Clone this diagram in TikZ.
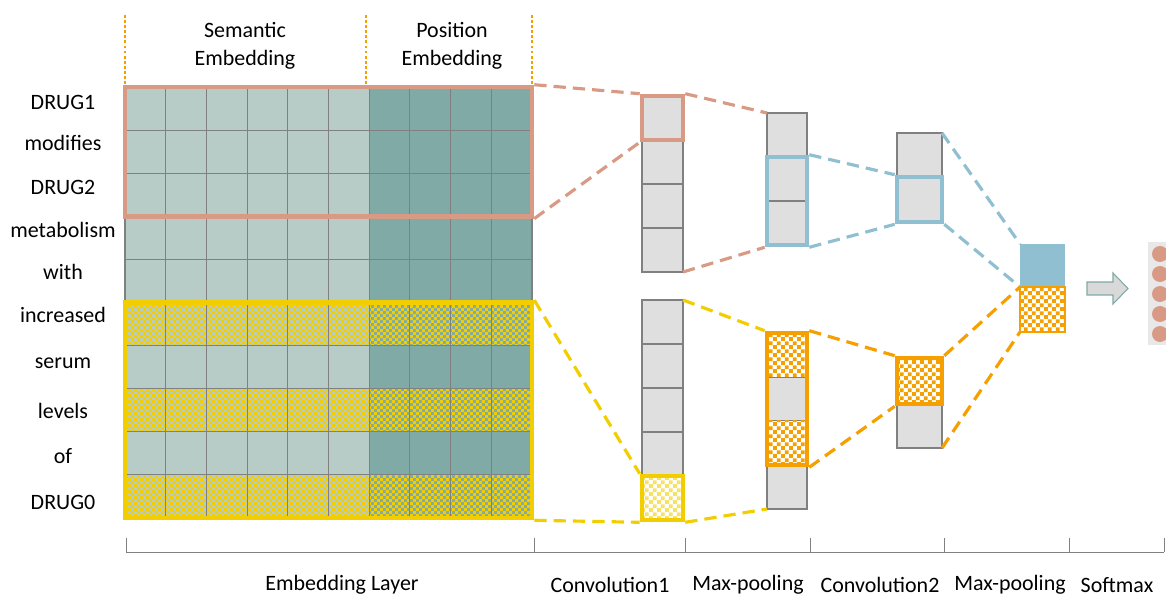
\documentclass[tikz,border=0pt]{standalone}
\usepackage{fontspec}
\setmainfont{Carlito}
\usepackage{tikz}
\usetikzlibrary{patterns, fit, arrows.meta}
\usepackage{xcolor}
\definecolor{semgreen}{RGB}{183, 204, 199}
\definecolor{posteal}{RGB}{127, 170, 166}
\definecolor{gridgray}{RGB}{128, 128, 128}
\definecolor{cellgray}{RGB}{223, 223, 223}
\definecolor{salmon}{RGB}{217, 154, 133}
\definecolor{drugyellow}{RGB}{242, 206, 0}
\definecolor{poolorange}{RGB}{245, 160, 0}
\definecolor{poolblue}{RGB}{143, 191, 208}
\definecolor{arrowgray}{RGB}{217, 217, 217}
\definecolor{softgray}{RGB}{232, 232, 232}
% small checkerboards
\pgfdeclarepatternformonly{finecheck}{\pgfqpoint{0pt}{0pt}}{\pgfqpoint{3.4pt}{3.4pt}}{\pgfqpoint{3.4pt}{3.4pt}}{
  \pgfpathrectangle{\pgfpointorigin}{\pgfqpoint{1.7pt}{1.7pt}}
  \pgfpathrectangle{\pgfqpoint{1.7pt}{1.7pt}}{\pgfqpoint{1.7pt}{1.7pt}}
  \pgfusepath{fill}}
\pgfdeclarepatternformonly{midcheck}{\pgfqpoint{0pt}{0pt}}{\pgfqpoint{4.4pt}{4.4pt}}{\pgfqpoint{4.4pt}{4.4pt}}{
  \pgfpathrectangle{\pgfpointorigin}{\pgfqpoint{2.2pt}{2.2pt}}
  \pgfpathrectangle{\pgfqpoint{2.2pt}{2.2pt}}{\pgfqpoint{2.2pt}{2.2pt}}
  \pgfusepath{fill}}
\tikzstyle{word} = [font=\fontsize{12.5}{16}\selectfont, inner sep=0pt]
\tikzstyle{gridline} = [draw=gridgray, line width=0.6pt]
\tikzstyle{cell} = [draw=gridgray, fill=cellgray, line width=0.9pt]
\tikzstyle{column} = [inner sep=0pt, outer sep=0pt]
\tikzstyle{hlbox} = [draw, inner sep=0pt, line width=2.6pt]
\tikzstyle{checker} = [pattern=midcheck]
\tikzstyle{link} = [dash pattern=on 7pt off 4pt, line width=1.8pt]
\tikzstyle{divider} = [poolorange, dash pattern=on 1.6pt off 1.3pt, line width=1.6pt]
\tikzstyle{axis} = [gridgray, line width=0.5pt]

\begin{document}
\begin{tikzpicture}[x=0.02cm, y=-0.02cm]
\useasboundingbox (0,0) rectangle (1166,597);

% Embedding matrix
\fill[semgreen] (125,87) rectangle (369,518);
\fill[posteal] (369,87) rectangle (532,518);
\foreach \r in {5,7,9}
  \fill[pattern=finecheck, pattern color=drugyellow] (125,{87+\r*43.1}) rectangle (532,{87+(\r+1)*43.1});
\foreach \c in {0,...,10}
  \draw[gridline] ({125+\c*40.7},87) -- ({125+\c*40.7},518);
\foreach \r in {0,...,10}
  \draw[gridline] (125,{87+\r*43.1}) -- (532,{87+\r*43.1});
\node[hlbox, draw=salmon, fit={(125,87) (532,216.3)}] (sem3) {};
\node[hlbox, draw=drugyellow, fit={(125,302.5) (532,518)}] (sem5) {};

% Sentence
\foreach \w/\y [count=\i] in {DRUG1/102, modifies/143, DRUG2/187, metabolism/230, with/272,
    increased/315, serum/363, levels/411, of/456, DRUG0/502}
  \node[word] (w\i) at (63,\y) {\w};

% Headers
\foreach \x in {125,366,532}
  \draw[divider] (\x,15) -- (\x,85);
\node[word, align=center] (semhead) at (245,46) {Semantic\\Embedding};
\node[word, align=center] (poshead) at (452,46) {Position\\Embedding};

% Convolution1
\foreach \y in {96,140,184,228}
  \draw[cell] (642,\y) rectangle +(41,44);
\node[column, fit={(642,96) (683,272)}] (c1top) {};
\foreach \y in {300,344,388,432,476}
  \draw[cell] (642,\y) rectangle +(41,44);
\node[column, fit={(642,300) (683,520)}] (c1bot) {};
\fill[white] (642,476) rectangle (683,520);
\fill[checker, pattern color=drugyellow!60] (642,476) rectangle (683,520);
\node[hlbox, draw=salmon, fit={(642,96) (683,140)}] (c1sal) {};
\node[hlbox, draw=drugyellow, fit={(642,476) (683,520)}] (c1yel) {};

% Max-pooling 1
\foreach \y in {113,157,201}
  \draw[cell] (767,\y) rectangle +(40,44);
\node[column, fit={(767,113) (807,245)}] (mp1top) {};
\foreach \y in {333,377,421,465}
  \draw[cell] (767,\y) rectangle +(40,44);
\node[column, fit={(767,333) (807,509)}] (mp1bot) {};
\foreach \y in {333,421} {
  \fill[white] (767,\y) rectangle +(40,44);
  \fill[checker, pattern color=poolorange] (767,\y) rectangle +(40,44);
}
\node[hlbox, draw=poolblue, fit={(767,157) (807,245)}] (mp1blu) {};
\node[hlbox, draw=poolorange, fit={(767,333) (807,465)}] (mp1org) {};

% Convolution2
\draw[cell] (897,133) rectangle (942,177);
\draw[cell] (897,177) rectangle (942,222);
\node[column, fit={(897,133) (942,222)}] (c2top) {};
\draw[cell] (897,404) rectangle (942,448);
\fill[white] (897,358) rectangle (942,404);
\fill[checker, pattern color=poolorange] (897,358) rectangle (942,404);
\node[column, fit={(897,358) (942,448)}] (c2bot) {};
\node[hlbox, draw=poolblue, fit={(897,177) (942,222)}] (c2blu) {};
\node[hlbox, draw=poolorange, fit={(897,358) (942,404)}] (c2org) {};

% Max-pooling 2
\node[column, fill=poolblue, fit={(1020,244) (1065,287)}] (fblu) {};
\fill[white] (1020,287) rectangle (1065,332);
\fill[checker, pattern color=poolorange] (1020,287) rectangle (1065,332);
\node[column, draw=poolorange, line width=0.8pt, fit={(1020,287) (1065,332)}] (forg) {};

% Softmax
\draw[posteal, fill=arrowgray, line width=0.6pt] (1087,282) -- (1113,282) -- (1113,273)
  -- (1128,288.5) -- (1113,304) -- (1113,295) -- (1087,295) -- cycle;
\fill[softgray] (1148,242) rectangle (1170,345);
\foreach \y in {254,274,294,314,334}
  \fill[salmon] (1160,\y) circle (0.16cm);

% Links
\draw[link, salmon] (sem3.north east) -- (c1sal.north west);
\draw[link, salmon] (sem3.south east) -- (c1sal.south west);
\draw[link, salmon] (c1sal.north east) -- (mp1top.north west);
\draw[link, salmon] (c1top.south east) -- (mp1blu.south west);
\draw[link, poolblue] (mp1blu.north east) -- (c2blu.north west);
\draw[link, poolblue] (mp1blu.south east) -- (c2blu.south west);
\draw[link, poolblue] (c2top.north east) -- (fblu.north west);
\draw[link, poolblue] (c2blu.south east) -- (fblu.south west);
\draw[link, drugyellow] (sem5.north east) -- (c1yel.north west);
\draw[link, drugyellow] (sem5.south east) -- (c1yel.south west);
\draw[link, drugyellow] (c1bot.north east) -- (mp1org.north west);
\draw[link, drugyellow] (c1yel.south east) -- (mp1bot.south west);
\draw[link, poolorange] (mp1org.north east) -- (c2org.north west);
\draw[link, poolorange] (mp1org.south east) -- (c2org.south west);
\draw[link, poolorange] (c2org.north east) -- (forg.north west);
\draw[link, poolorange] (c2bot.south east) -- (forg.south west);

% Stages
\draw[axis] (126,538) -- (126,552) -- (1164,552);
\foreach \x in {534,685,810,944,1069,1164}
  \draw[axis] (\x,538) -- (\x,552);
\node[word] (embstage) at (342,585) {Embedding Layer};
\node[word] (conv1stage) at (610,585) {Convolution1};
\node[word] (pool1stage) at (748,585) {Max-pooling};
\node[word] (conv2stage) at (880,585) {Convolution2};
\node[word] (pool2stage) at (1010,585) {Max-pooling};
\node[word] (softstage) at (1117,585) {Softmax};

\end{tikzpicture}
\end{document}
